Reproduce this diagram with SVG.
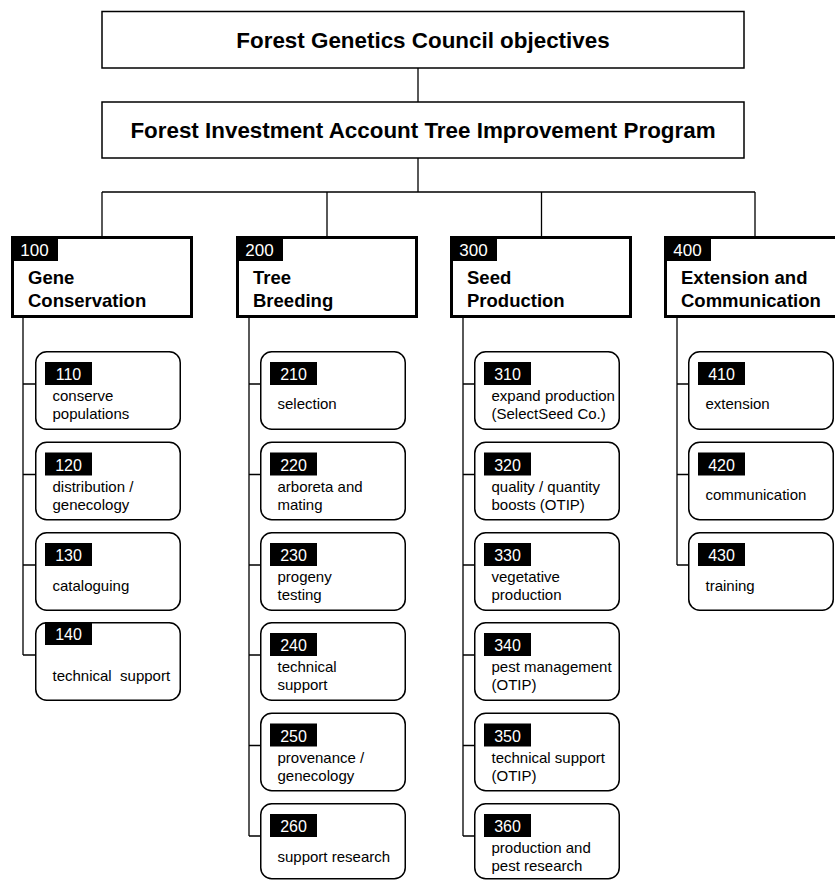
<svg xmlns="http://www.w3.org/2000/svg" width="835" height="880" viewBox="0 0 835 880">
<style>
.top{fill:#fff;stroke:#000;stroke-width:1.5}
.hdr{fill:#fff;stroke:#000;stroke-width:3}
.box{fill:#fff;stroke:#000;stroke-width:1.5}
.lab{fill:#000}
.ttl{font-family:"Liberation Sans",Arial,sans-serif;font-weight:bold;font-size:22.4px;fill:#000;text-anchor:middle}
.hnum{font-family:"Liberation Sans",Arial,sans-serif;font-size:17px;fill:#fff;text-anchor:middle}
.htxt{font-family:"Liberation Sans",Arial,sans-serif;font-weight:bold;font-size:18.5px;fill:#000}
.num{font-family:"Liberation Sans",Arial,sans-serif;font-size:16px;fill:#fff;text-anchor:middle}
.txt{font-family:"Liberation Sans",Arial,sans-serif;font-size:15px;fill:#000}
.con{fill:none;stroke:#000;stroke-width:1.3}
</style>
<g id="connectors">
<path class="con" d="M418 68V102M418 158V192M102 192H755M102 192V236M327 192V236M541.5 192V236M755 192V236"/>
<path class="con" d="M23 318V655M23 384H35M23 474.5H35M23 565H35M23 655H35"/>
<path class="con" d="M249 318V836M249 384H260M249 474.5H260M249 565H260M249 655H260M249 745.5H260M249 836H260"/>
<path class="con" d="M463 318V836M463 384H474M463 474.5H474M463 565H474M463 655H474M463 745.5H474M463 836H474"/>
<path class="con" d="M677 318V565M677 384H688M677 474.5H688M677 565H688"/>
</g>
<g id="fgc">
<rect class="top" x="102" y="11.5" width="642" height="56.5"/>
<text class="ttl" x="423" y="47.5">Forest Genetics Council objectives</text>
</g>
<g id="fia">
<rect class="top" x="102" y="102" width="642" height="56"/>
<text class="ttl" x="423" y="138">Forest Investment Account Tree Improvement Program</text>
</g>
<g id="n100">
<rect class="hdr" x="12.5" y="237.5" width="179" height="79"/>
<rect class="lab" x="11" y="236" width="47" height="25"/>
<text class="hnum" x="34.5" y="255.5">100</text>
<text class="htxt" x="28" y="284">Gene</text>
<text class="htxt" x="28" y="307">Conservation</text>
</g>
<g id="n200">
<rect class="hdr" x="237.5" y="237.5" width="179" height="79"/>
<rect class="lab" x="236" y="236" width="47" height="25"/>
<text class="hnum" x="259.5" y="255.5">200</text>
<text class="htxt" x="253" y="284">Tree</text>
<text class="htxt" x="253" y="307">Breeding</text>
</g>
<g id="n300">
<rect class="hdr" x="451.5" y="237.5" width="179" height="79"/>
<rect class="lab" x="450" y="236" width="47" height="25"/>
<text class="hnum" x="473.5" y="255.5">300</text>
<text class="htxt" x="467" y="284">Seed</text>
<text class="htxt" x="467" y="307">Production</text>
</g>
<g id="n400">
<rect class="hdr" x="665.5" y="237.5" width="179" height="79"/>
<rect class="lab" x="664" y="236" width="47" height="25"/>
<text class="hnum" x="687.5" y="255.5">400</text>
<text class="htxt" x="681" y="284">Extension and</text>
<text class="htxt" x="681" y="307">Communication</text>
</g>
<g id="n110">
<rect class="box" x="35.75" y="351.75" width="144.5" height="77.5" rx="11"/>
<rect class="lab" x="45" y="362" width="47" height="23"/>
<text class="num" x="68.5" y="380">110</text>
<text class="txt" x="52.5" y="401">conserve</text>
<text class="txt" x="52.5" y="419">populations</text>
</g>
<g id="n120">
<rect class="box" x="35.75" y="442.25" width="144.5" height="77.5" rx="11"/>
<rect class="lab" x="45" y="452.5" width="47" height="23"/>
<text class="num" x="68.5" y="470.5">120</text>
<text class="txt" x="52.5" y="491.5">distribution /</text>
<text class="txt" x="52.5" y="509.5">genecology</text>
</g>
<g id="n130">
<rect class="box" x="35.75" y="532.75" width="144.5" height="77.5" rx="11"/>
<rect class="lab" x="45" y="543" width="47" height="23"/>
<text class="num" x="68.5" y="561">130</text>
<text class="txt" x="52.5" y="591">cataloguing</text>
</g>
<g id="n140">
<rect class="box" x="35.75" y="622.75" width="144.5" height="77.5" rx="11"/>
<rect class="lab" x="45" y="622" width="47" height="23"/>
<text class="num" x="68.5" y="640">140</text>
<text class="txt" x="52.5" y="681" xml:space="preserve">technical  support</text>
</g>
<g id="n210">
<rect class="box" x="260.75" y="351.75" width="144.5" height="77.5" rx="11"/>
<rect class="lab" x="270" y="362" width="47" height="23"/>
<text class="num" x="293.5" y="380">210</text>
<text class="txt" x="277.5" y="409">selection</text>
</g>
<g id="n220">
<rect class="box" x="260.75" y="442.25" width="144.5" height="77.5" rx="11"/>
<rect class="lab" x="270" y="452.5" width="47" height="23"/>
<text class="num" x="293.5" y="470.5">220</text>
<text class="txt" x="277.5" y="491.5">arboreta and</text>
<text class="txt" x="277.5" y="509.5">mating</text>
</g>
<g id="n230">
<rect class="box" x="260.75" y="532.75" width="144.5" height="77.5" rx="11"/>
<rect class="lab" x="270" y="543" width="47" height="23"/>
<text class="num" x="293.5" y="561">230</text>
<text class="txt" x="277.5" y="582">progeny</text>
<text class="txt" x="277.5" y="600">testing</text>
</g>
<g id="n240">
<rect class="box" x="260.75" y="622.75" width="144.5" height="77.5" rx="11"/>
<rect class="lab" x="270" y="633" width="47" height="23"/>
<text class="num" x="293.5" y="651">240</text>
<text class="txt" x="277.5" y="672">technical</text>
<text class="txt" x="277.5" y="690">support</text>
</g>
<g id="n250">
<rect class="box" x="260.75" y="713.25" width="144.5" height="77.5" rx="11"/>
<rect class="lab" x="270" y="723.5" width="47" height="23"/>
<text class="num" x="293.5" y="741.5">250</text>
<text class="txt" x="277.5" y="762.5">provenance /</text>
<text class="txt" x="277.5" y="780.5">genecology</text>
</g>
<g id="n260">
<rect class="box" x="260.75" y="803.75" width="144.5" height="75" rx="11"/>
<rect class="lab" x="270" y="814" width="47" height="23"/>
<text class="num" x="293.5" y="832">260</text>
<text class="txt" x="277.5" y="861.5">support research</text>
</g>
<g id="n310">
<rect class="box" x="474.75" y="351.75" width="144.5" height="77.5" rx="11"/>
<rect class="lab" x="484" y="362" width="47" height="23"/>
<text class="num" x="507.5" y="380">310</text>
<text class="txt" x="491.5" y="401">expand production</text>
<text class="txt" x="491.5" y="419">(SelectSeed Co.)</text>
</g>
<g id="n320">
<rect class="box" x="474.75" y="442.25" width="144.5" height="77.5" rx="11"/>
<rect class="lab" x="484" y="452.5" width="47" height="23"/>
<text class="num" x="507.5" y="470.5">320</text>
<text class="txt" x="491.5" y="491.5">quality / quantity</text>
<text class="txt" x="491.5" y="509.5">boosts (OTIP)</text>
</g>
<g id="n330">
<rect class="box" x="474.75" y="532.75" width="144.5" height="77.5" rx="11"/>
<rect class="lab" x="484" y="543" width="47" height="23"/>
<text class="num" x="507.5" y="561">330</text>
<text class="txt" x="491.5" y="582">vegetative</text>
<text class="txt" x="491.5" y="600">production</text>
</g>
<g id="n340">
<rect class="box" x="474.75" y="622.75" width="144.5" height="77.5" rx="11"/>
<rect class="lab" x="484" y="633" width="47" height="23"/>
<text class="num" x="507.5" y="651">340</text>
<text class="txt" x="491.5" y="672">pest management</text>
<text class="txt" x="491.5" y="690">(OTIP)</text>
</g>
<g id="n350">
<rect class="box" x="474.75" y="713.25" width="144.5" height="77.5" rx="11"/>
<rect class="lab" x="484" y="723.5" width="47" height="23"/>
<text class="num" x="507.5" y="741.5">350</text>
<text class="txt" x="491.5" y="762.5">technical support</text>
<text class="txt" x="491.5" y="780.5">(OTIP)</text>
</g>
<g id="n360">
<rect class="box" x="474.75" y="803.75" width="144.5" height="75" rx="11"/>
<rect class="lab" x="484" y="814" width="47" height="23"/>
<text class="num" x="507.5" y="832">360</text>
<text class="txt" x="491.5" y="853">production and</text>
<text class="txt" x="491.5" y="871">pest research</text>
</g>
<g id="n410">
<rect class="box" x="688.75" y="351.75" width="144.5" height="77.5" rx="11"/>
<rect class="lab" x="698" y="362" width="47" height="23"/>
<text class="num" x="721.5" y="380">410</text>
<text class="txt" x="705.5" y="409">extension</text>
</g>
<g id="n420">
<rect class="box" x="688.75" y="442.25" width="144.5" height="77.5" rx="11"/>
<rect class="lab" x="698" y="452.5" width="47" height="23"/>
<text class="num" x="721.5" y="470.5">420</text>
<text class="txt" x="705.5" y="500">communication</text>
</g>
<g id="n430">
<rect class="box" x="688.75" y="532.75" width="144.5" height="77.5" rx="11"/>
<rect class="lab" x="698" y="543" width="47" height="23"/>
<text class="num" x="721.5" y="561">430</text>
<text class="txt" x="705.5" y="591">training</text>
</g>
</svg>
